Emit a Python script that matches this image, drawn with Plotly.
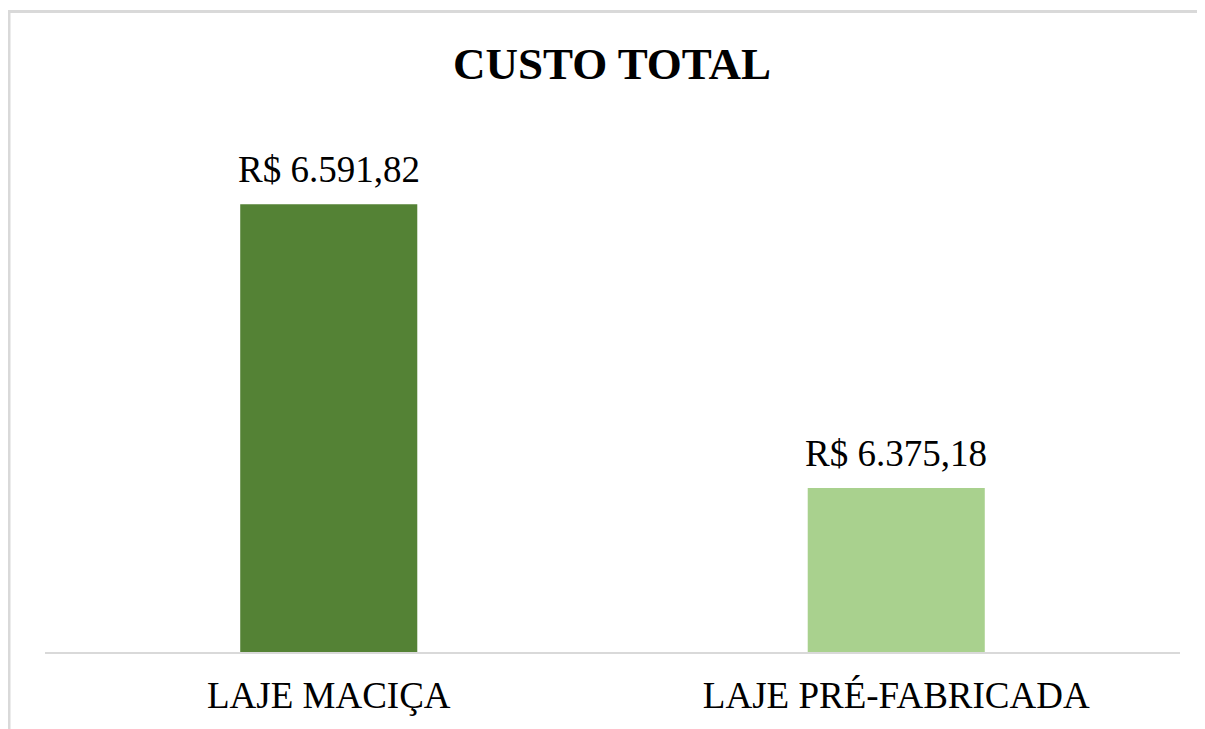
import plotly.graph_objects as go

categories = ["LAJE MACIÇA", "LAJE PRÉ-FABRICADA"]
values = [6591.82, 6375.18]
labels = ["R$ 6.591,82", "R$ 6.375,18"]
colors = ["#548235", "#A9D18E"]

OFF = 8  # page body margin offset
W, H = 1205, 729
L = 45 - OFF
T = 128 - OFF
R = W - (1180 - OFF)
B = H - (652 - OFF)
ymin, ymax = 6250, 6650

fig = go.Figure()
fig.add_trace(go.Bar(
    x=categories, y=values, marker=dict(color=colors, line=dict(width=0)),
    width=0.312, hoverinfo="skip", showlegend=False,
))

for c, v, t in zip(categories, values, labels):
    fig.add_annotation(x=c, y=v, text=t, showarrow=False, yanchor="bottom",
                       yshift=12, font=dict(family="Liberation Serif", size=37, color="#000000"))

ph = H - T - B
pw = W - L - R

def px_x(px):
    return (px - OFF - L) / pw

def px_y(py):
    return (H - B - (py - OFF)) / ph

border = dict(color="#d9d9d9", width=3)
# top border
fig.add_shape(type="line", xref="paper", yref="paper",
              x0=px_x(9), x1=px_x(1300), y0=px_y(11.5), y1=px_y(11.5), line=border)
# left border
fig.add_shape(type="line", xref="paper", yref="paper",
              x0=px_x(9), x1=px_x(9), y0=px_y(10), y1=px_y(800), line=border)

fig.update_layout(
    width=W, height=H,
    margin=dict(l=L, r=R, t=T, b=B),
    paper_bgcolor="white", plot_bgcolor="white",
    title=dict(text="<b>CUSTO TOTAL</b>", x=(612 - OFF) / W, xanchor="center",
               y=1 - (63 - OFF) / H, yanchor="middle", yref="container",
               font=dict(family="Liberation Serif", size=45, color="#000000")),
    xaxis=dict(showline=True, linecolor="#d9d9d9", linewidth=2, ticks="",
               tickfont=dict(family="Liberation Serif", size=37, color="#000000"),
               ticklabelstandoff=10, showgrid=False),
    yaxis=dict(range=[ymin, ymax], visible=False, showgrid=False, zeroline=False),
    bargap=0.688,
)

fig.write_html("out.html")
